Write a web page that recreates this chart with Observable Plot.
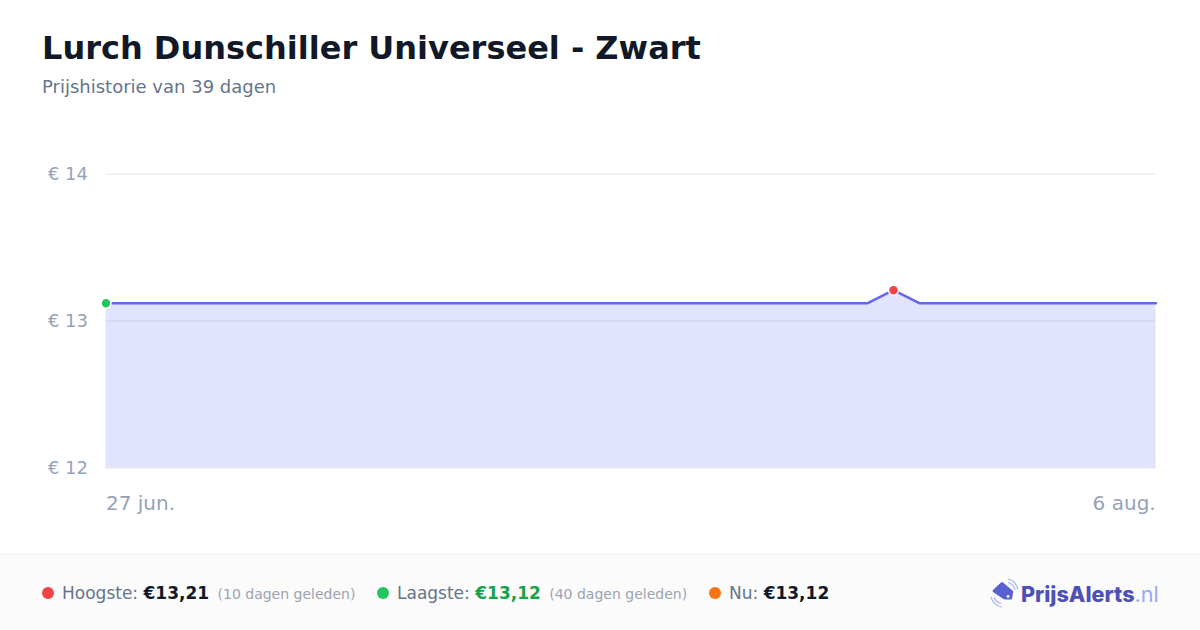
<!DOCTYPE html>
<html lang="nl">
<head>
<meta charset="utf-8">
<script src="https://cdn.jsdelivr.net/npm/d3@7"></script>
<script src="https://cdn.jsdelivr.net/npm/@observablehq/plot@0.6"></script>
<style>
  html, body { margin: 0; padding: 0; background: #fff; }
  body { width: 1200px; height: 630px; position: relative; overflow: hidden; font-family: "DejaVu Sans", sans-serif; }
  #title { position: absolute; left: 42px; top: 28px; font-size: 32px; font-weight: 700; line-height: 40px; color: #111827; white-space: nowrap; }
  #subtitle { position: absolute; left: 42px; top: 76px; font-size: 18px; line-height: 22px; color: #64748b; white-space: nowrap; }
  #chart { position: absolute; left: 0; top: 120px; }
  #chart svg { display: block; }
  #footer { position: absolute; left: 0; top: 554px; width: 1200px; height: 76px; box-sizing: border-box; background: #fbfbfb; border-top: 1px solid #f1f1f3; }
  .stat { position: absolute; top: 27px; line-height: 22px; font-size: 17px; color: #64748b; white-space: nowrap; }
  .dot { position: absolute; top: 5px; left: 0; width: 12px; height: 12px; border-radius: 50%; }
  .stat span.lab { margin-left: 20px; }
  .stat b { color: #111827; font-size: 17px; }
  .stat small { color: #9ca3af; font-size: 14px; margin-left: 3px; position: relative; top: -0.5px; }
  #logo { position: absolute; left: 990px; top: 22px; width: 175px; height: 32px; }
  #logotext { position: absolute; left: 31px; top: 1.5px; font-family: Inter, "Noto Sans", sans-serif; font-size: 21.6px; font-weight: 800; line-height: 30px; color: #4d50b5; white-space: nowrap; }
  #logotext i { font-style: normal; font-weight: 400; color: #98a9f5; }
</style>
</head>
<body>
<div id="title"></div>
<div id="subtitle"></div>
<div id="chart"></div>
<div id="footer">
  <div id="stats"></div>
  <div id="logo">
    <svg width="32" height="32" viewBox="0 0 32 32" style="position:absolute;left:0;top:0">
      <path d="M3 13 L11 5.5 Q12 4.5 13 5.5 L22.5 13.5 Q23.5 14.5 23 15.5 L22.3 21 Q22 22.5 20.5 22.5 L15 22.5 Q14 22.5 13 21.8 L3 15 Q2 14 3 13 Z" fill="#5b60d0"/>
      <circle cx="18" cy="19.5" r="1.4" fill="#fbfbfb"/>
      <path d="M18 2 A14 14 0 0 1 28 13" fill="none" stroke="#a9b8f5" stroke-width="1.2"/>
      <path d="M18 5.3 A10 10 0 0 1 25 13" fill="none" stroke="#a9b8f5" stroke-width="1.2"/>
      <path d="M1 20 A14 14 0 0 0 12 30" fill="none" stroke="#a9b8f5" stroke-width="1.2"/>
      <path d="M4 20 A10 10 0 0 0 11 26.5" fill="none" stroke="#a9b8f5" stroke-width="1.2"/>
    </svg>
    <div id="logotext">PrijsAlerts<i>.nl</i></div>
  </div>
</div>
<script>
const titleText = "Lurch Dunschiller Universeel - Zwart";
const subtitleText = "Prijshistorie van 39 dagen";

const dates = [
  "2025-06-27","2025-06-28","2025-06-29","2025-06-30","2025-07-01","2025-07-02","2025-07-03",
  "2025-07-04","2025-07-05","2025-07-06","2025-07-07","2025-07-08","2025-07-09","2025-07-10",
  "2025-07-11","2025-07-12","2025-07-13","2025-07-14","2025-07-15","2025-07-16","2025-07-17",
  "2025-07-18","2025-07-19","2025-07-20","2025-07-21","2025-07-22","2025-07-23","2025-07-24",
  "2025-07-25","2025-07-26","2025-07-27","2025-07-28","2025-07-29","2025-07-30","2025-07-31",
  "2025-08-01","2025-08-02","2025-08-03","2025-08-04","2025-08-05","2025-08-06"
];
const prices = [
  13.12,13.12,13.12,13.12,13.12,13.12,13.12,
  13.12,13.12,13.12,13.12,13.12,13.12,13.12,
  13.12,13.12,13.12,13.12,13.12,13.12,13.12,
  13.12,13.12,13.12,13.12,13.12,13.12,13.12,
  13.12,13.12,13.21,13.12,13.12,13.12,13.12,
  13.12,13.12,13.12,13.12,13.12,13.12
];
const yTicks = [12, 13, 14];
const xTickLabels = ["27 jun.", "6 aug."];
const highPoint = {date: "2025-07-27", price: 13.21};
const lowPoint = {date: "2025-06-27", price: 13.12};
const stats = [
  {label: "Hoogste:", value: "€13,21", valueColor: "#111827", note: "(10 dagen geleden)", dot: "#ef4444", left: 42},
  {label: "Laagste:", value: "€13,12", valueColor: "#16a34a", note: "(40 dagen geleden)", dot: "#22c55e", left: 377},
  {label: "Nu:", value: "€13,12", valueColor: "#111827", note: "", dot: "#f97316", left: 709}
];

const parse = d3.utcParse("%Y-%m-%d");
const rows = dates.map((d, i) => ({date: parse(d), price: prices[i]}));
const firstDate = rows[0].date, lastDate = rows[rows.length - 1].date;

document.getElementById("title").textContent = titleText;
document.getElementById("subtitle").textContent = subtitleText;

const statsEl = document.getElementById("stats");
for (const s of stats) {
  const el = document.createElement("div");
  el.className = "stat";
  el.style.left = s.left + "px";
  el.innerHTML = `<span class="dot" style="background:${s.dot}"></span><span class="lab">${s.label}</span> <b style="color:${s.valueColor}">${s.value}</b>` + (s.note ? ` <small>${s.note}</small>` : "");
  statsEl.appendChild(el);
}

const dotMark = (p, color) => Plot.dot([{date: parse(p.date), price: p.price}], {
  x: "date", y: "price", r: 5, fill: color, stroke: "#fff", strokeWidth: 1.5, dx: -0.5, dy: -0.5
});

const chart = Plot.plot({
  width: 1200,
  height: 420,
  marginLeft: 106,
  marginRight: 44,
  marginTop: 54,
  marginBottom: 72,
  style: {background: "transparent", fontFamily: "'DejaVu Sans', sans-serif"},
  x: {type: "utc", domain: [firstDate, lastDate]},
  y: {domain: [12, 14]},
  marks: [
    Plot.gridY(yTicks, {stroke: "#f1f2f5", strokeOpacity: 1, strokeWidth: 2, dy: -0.5, dx: -0.5}),
    Plot.areaY(rows, {x: "date", y1: 12, y2: "price", fill: "#818cf8", fillOpacity: 0.23, curve: "linear", dx: -0.5, dy: -0.5}),
    Plot.lineY(rows, {x: "date", y: "price", stroke: "#6366f1", strokeWidth: 2.5, curve: "linear", dx: -0.5, dy: -0.5}),
    Plot.axisY(yTicks, {
      tickSize: 0, tickPadding: 18.5, fontSize: 18, color: "#94a3b8", label: null,
      tickFormat: d => `€ ${d}`
    }),
    Plot.axisX([firstDate], {
      tickSize: 0, tickPadding: 27, fontSize: 20, color: "#94a3b8", label: null, dx: -0.5,
      textAnchor: "start", tickFormat: () => xTickLabels[0]
    }),
    Plot.axisX([lastDate], {
      tickSize: 0, tickPadding: 27, fontSize: 20, color: "#94a3b8", label: null, dx: -0.8,
      textAnchor: "end", tickFormat: () => xTickLabels[1]
    }),
    dotMark(highPoint, "#ef4444"),
    dotMark(lowPoint, "#22c55e")
  ]
});
document.getElementById("chart").appendChild(chart);
</script>
</body>
</html>
